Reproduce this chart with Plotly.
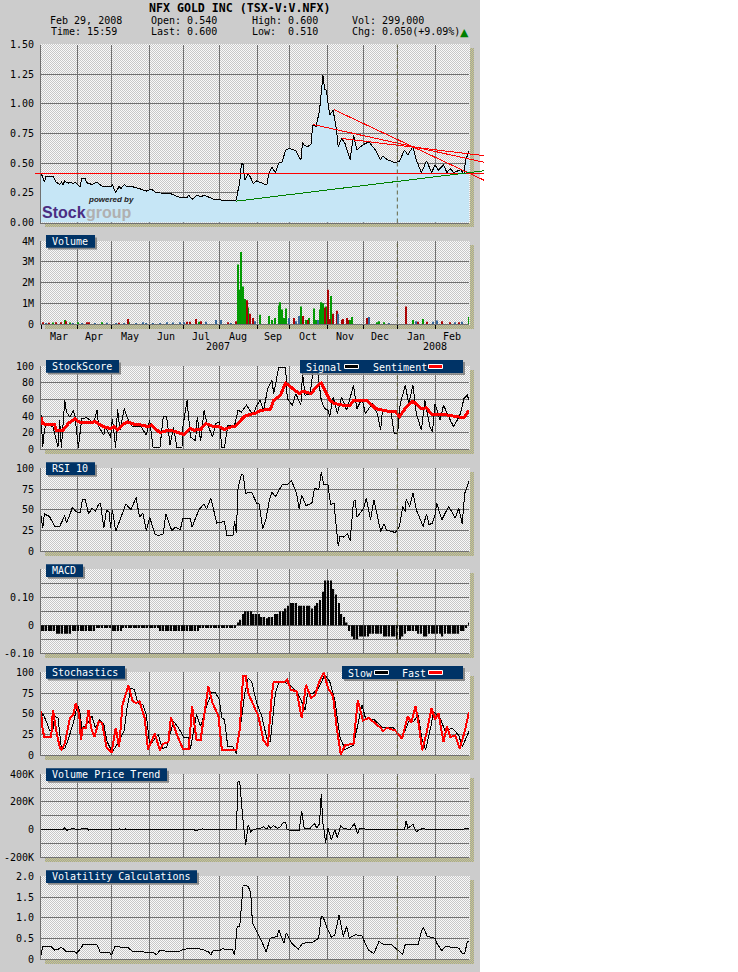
import base64, struct, zlib
import numpy as np
import plotly.graph_objects as go

TITLE = "NFX GOLD INC (TSX-V:V.NFX)"
MONTHS = ["Mar","Apr","May","Jun","Jul","Aug","Sep","Oct","Nov","Dec","Jan","Feb"]
MONTH_EDGES = [0,21.2,41.3,63.7,83.7,104.9,127.3,146.2,168.6,189.8,209.8,232.2,252]
YEAR_BREAK = 209.8

PRICE_S = [0,1,2,3,7,9,11,12,13,14,16,17,19,20,23,24,26,27,30,33,36,41,42,44,46,47,49,51,53,56,58,62,65,68,72,76,82,86,87,89,92,94,96,99,102,105,107,114,115,116,117,118,119,120,122,123,125,127,130,133,134,136,138,140,142,144,146,150,153,154,155,157,159,160,162,164,166,167,168,170,172,174,175,177,179,182,184,186,189,193,197,200,201,204,208,211,214,216,219,221,224,227,230,232,234,237,239,241,243,247,249,250,252]
PRICE_V = [.41,.385,.34,.39,.39,.34,.32,.34,.32,.35,.33,.34,.33,.34,.30,.37,.37,.335,.32,.34,.305,.30,.32,.25,.305,.285,.32,.30,.305,.295,.285,.265,.28,.25,.245,.245,.21,.21,.23,.195,.23,.215,.23,.215,.195,.195,.185,.185,.19,.27,.34,.50,.49,.355,.41,.39,.33,.35,.335,.315,.41,.465,.42,.50,.51,.61,.625,.605,.525,.68,.65,.64,.66,.82,.81,.945,1.24,1.12,1.115,.905,.945,.78,.64,.71,.665,.53,.735,.61,.65,.68,.61,.525,.56,.53,.505,.515,.61,.57,.64,.525,.42,.52,.42,.485,.44,.485,.42,.455,.42,.445,.41,.525,.60]

RESIST_S = [[172.6,261],[160.4,261],[177,261],[-3.5,261]]
RESIST_V = [[.95,.355],[.825,.507],[.708,.563],[.412,.412]]
SUPPORT_S = [115,261]
SUPPORT_V = [.18,.436]

VOL_UP_S = [7,14,17,22,36,52,93,116,118,117,119,120,122,129,134,136,138,140,141,142,143,144,153,156,158,161,162,164,165,166,168,171,182,183,198,199,202,219,225,252]
VOL_UP_V = [.08,.2,.08,.1,.1,.1,.12,2.85,3.45,1.65,1.8,1.2,.8,.45,.4,.2,.3,.9,1.05,.7,.3,.75,.85,.2,.3,.75,.2,.7,1.05,1.0,.85,1.35,.2,.35,.1,.15,.1,.2,.25,.35]
VOL_DN_S = [1,5,9,12,15,27,28,46,51,86,88,91,94,110,115,121,123,125,149,154,157,167,169,170,172,174,177,178,180,181,192,215,222,227,236,241,246]
VOL_DN_V = [.1,.07,.1,.1,.15,.1,.1,.07,.25,.12,.12,.25,.15,.1,.15,1.15,.5,.3,.3,.4,.2,.8,1.65,.25,.5,.65,.2,.25,.3,.2,.3,.85,.12,.12,.15,.1,.1]
VOL_FL_S = [3,19,24,32,39,44,49,56,60,62,66,70,74,78,82,84,97,103,106,112,126,146,150,152,163,175,193,205,221,231,233,244,248]
VOL_FL_V = [.05,.05,.05,.05,.07,.05,.06,.05,.1,.05,.05,.05,.1,.08,.1,.1,.12,.2,.2,.05,.15,.3,.15,.4,.2,.5,.35,.05,.15,.12,.18,.1,.12]

SIGNAL_S = [0,0.5,1,2,3,7,9,10,11,12,14,15,17,19,20,21,22,24,27,31,33,34,37,38,41,42,44,45,46.5,49,51,54,59,62,64,66,70,72,74,76,78,80,83,83.5,86,88,91,92,94,96,97.5,101,103,105,106.5,108,110,114,116,118,121,125,127,129,131,133.5,136,137,140,142,144,145,148,150,153,154,155.5,158.5,160,163,165,167,169,170,172,174.5,177,180,184,186,189,191,195,198,200,201,206,208,210,211.5,214.5,216.5,219,221,224,226,229,230.5,232,235,237,241,243,247,249,251,252]
SIGNAL_V = [42,23,3,23,31,27,13,3,35,2,59,45,39,47,40,23,2,37,38,32,47,27,17,27,14,37,2,49,23,49,37,27,27,17,35,2,2,39,39,5,27,2,2,27,59,15,10,39,10,47,33,15,31,33,2,2,29,29,47,45,53,41,53,59,47,73,83,67,99,99,99,61,53,67,53,92,65,67,92,92,59,49,47,39,63,43,63,47,77,49,61,43,55,43,23,47,45,19,19,55,77,55,77,43,23,59,27,21,55,35,53,35,27,43,61,65,59]
SENT_S = [0,1,3,8,9,13,16,20,23,32,37,41,43,45,49,51,55,60,63,65,70,75,78,84,88,90,94,97,102,105,108,112,114,120,125,127,129,135,137,141,144,147,152,154,159,162,165,170,173,178,182,184,192,197,204,209,211,215,219,224,227,230,237,246,249,252]
SENT_V = [39,31,30,30,23,23,31,37,32,33,27,25,27,23,31,33,30,29,27,29,20,23,22,18,25,23,24,31,27,27,24,27,27,40,43,44,47,48,59,65,80,75,67,70,67,75,80,59,55,53,53,59,59,49,46,45,39,51,58,49,50,42,42,39,38,47]

RSI_S = [0,1,2,5,8,11,14,15,17,18.5,20.5,23,24.5,26,28,30,32,34,35,37,38.5,40,41,42,44,46,48.5,50,53,56,58,60,62,64,67,69,72,73.5,77,79,82,83.5,88,89,91,93,96,97.5,100,103.5,108,109.5,113,114,115,116,118,119,120.5,124,127,128.5,130.5,132.5,134.5,136,138,140.5,142,145,147.5,150.5,152,153.5,156,159.5,161,163.5,165,166.5,169,170.5,172.5,175,176,178,180.5,182,184,185,186,190,191.5,194,196,200,202,203.5,207,208.5,211,213,214.5,215,217,219,221,225,227,228.5,230.5,232,233,236,240,244,246,248,249.5,252]
RSI_V = [42,28,45,42,30,30,43,34,44,53,48,46,63,63,45,52,48,57,58,28,49,48,28,50,24,35,48,57,50,65,41,46,25,41,21,19,21,45,25,29,26,39,39,29,40,50,57,51,64,34,36,19,19,36,22,76,93,92,70,71,58,57,27,39,62,71,66,75,80,80,85,70,51,68,55,58,76,74,95,80,80,56,58,6,18,17,21,13,60,62,41,52,64,38,62,24,33,25,24,22,30,54,48,63,54,70,50,30,45,32,34,44,58,38,54,40,52,33,70,84]

MACD_V = ([-.02]*6+[-.03]*6+[-.02]*9+[-.01]*6+[-.02]*4+[-.01]*14+[-.02]*15+[-.01]*14
          +[.01,.02,.04]+[.05]*3+[.04]*3+[.03]*2+[.025]+[.03]*2+[.04]*2+[.05]*2+[.06,.07]+[.08]*3+[.07]*5
          +[.06,.07,.08,.09,.12]+[.16]*3+[.13,.11,.08,.04,.03,.01,-.02,-.04]+[-.05]*2+[-.04]*4+[-.03]*5
          +[-.04]*5+[-.05]*2+[-.04,-.03]+[-.02]*4+[-.03]*2+[-.04]*2+[-.03]*5+[-.04]+[-.03]*6+[-.02]*2+[-.01,.01])

FAST_S = [0,1,2,6,7,9,11,12,14,17,19,20.5,22.5,23.5,24.5,26.5,28,29.5,31.5,34,36,38.5,41.5,44,46,48,51.5,54,56,58,61,63,67,70,72,75,76.5,80,83.5,87,89,91.5,94,98.5,101,104.5,106.5,115,117,119,120.5,122,128,131,133.5,136,137,143,145,147,150.5,153.5,156,159,161.5,163.5,166.5,169,172,174,176.5,179,184,186.5,189.5,193,200,201.5,203.5,208.5,212.5,216,218,220.5,222,224.5,227,230,232,234,237,239,241,244,246.5,249.5,252]
FAST_V = [53,30,22,22,55,29,10,7,14,45,49,63,49,18,33,33,55,33,22,41,39,10,3,33,10,61,84,65,63,65,45,7,26,6,14,16,46,25,8,8,59,19,19,83,63,47,6,6,31,95,95,75,47,18,11,75,88,88,91,79,77,45,85,69,73,87,100,81,71,35,1,12,14,66,42,45,33,29,33,30,20,47,39,59,43,6,27,57,43,51,16,35,22,24,8,29,52]
SLOW_S = [0,1,3.5,5,7,8,10,12,14,16,19,21.5,23,24,27,30,32,34.5,37,39,42,44.5,47,49,50.5,53,55,57,60,62,64,67,69,71.5,74,78,81,84,86.5,88,91.5,94,97.5,100.5,102.5,105,106.5,108,110,113,115,118,120,122,124,127,130,133,135,138,140,145,150,153,155.5,157,160.5,163.5,167,170,173,176,179,184,187,189,191,196,201.5,207.5,212.5,216.5,219.5,222,224.5,226.5,230,231,235,238,242,246,248,252]
SLOW_V = [43,51,39,30,30,47,45,8,8,19,39,61,51,33,37,47,33,43,37,16,4,12,22,30,55,81,79,63,61,49,12,20,25,8,10,41,33,22,22,8,49,35,59,76,76,67,45,43,10,10,2,43,75,93,89,63,47,20,16,75,88,87,78,67,55,75,75,81,97,89,67,22,7,12,39,61,45,43,33,33,20,41,41,49,18,7,39,53,45,29,33,24,10,29]

VPT_S = [0,13,14,15,17,19,21,25,27,28,30,45,46,49,50,51,87,88,90,91,93,95,97,115,115.5,116,117,118,119,120.5,122,123.5,125,129,131,133,134,135,137,139,141,142,144,145,152,153.5,155,158.5,161,162.5,164,165,166,167,167.5,169,171,173,174.5,176.5,178,182,184.5,186.5,187.5,190,194,198,214,215,216,219,221,222,225,227,251,252]
VPT_V = [0,0,14,-5,3,8,2,6,8,-3,0,0,6,0,6,0,0,3,0,-6,-2,5,0,0,165,347,347,178,60,-110,33,-15,0,10,20,5,29,10,29,10,20,45,53,-2,-7,135,10,10,45,10,45,255,45,-26,-99,10,-75,-2,-58,29,10,0,45,-31,10,5,2,0,0,65,10,38,-15,-7,10,0,5,10]

VOLAT_S = [0,1,6,8,10,12,14,15,20,21,24,24.5,33,35,40.5,41.5,43.5,51,53.5,57,66,68,70,76,82,84,90,95,98.5,100,101.5,105.5,106.5,112.5,114,115.5,117,119,122,123.5,124.5,127,130,132.5,135,139,140,143,144.5,147.5,151.5,154,159.5,163.5,165,166,168.5,171,173,175.5,178,180,181.5,185,189,191,193,196,199,202,206.5,209.5,213,214.5,222,224,225,227.5,232,233,236,238,246,248,249.5,251,252]
VOLAT_V = [.1,.3,.3,.22,.24,.29,.22,.18,.18,.15,.29,.35,.35,.16,.16,.1,.3,.29,.2,.18,.17,.11,.21,.19,.2,.24,.27,.24,.18,.11,.22,.22,.25,.24,.11,.79,.79,1.78,1.76,1.59,.87,.67,.43,.18,.51,.55,.71,.39,.64,.39,.24,.39,.4,.51,1.03,1.03,.75,.53,.59,1.07,.55,.79,.51,.59,.57,.37,.22,.14,.43,.35,.35,.24,.12,.36,.35,.67,.77,.55,.51,.39,.21,.31,.27,.14,.14,.43,.43]

W, H = 738, 972
X0, X1 = 41, 469
OVER0, OVER1 = 35, 485   # the trend lines run past the plot area to these pixels
FONT = "DejaVu Sans Mono"
GRID = "#707070"
NAVY = "#003366"
PANELS = {  # name: (top px, bottom px, range, tick values, tick labels, label, label right edge, label top)
    "": (44.5, 222.5, [0, 1.5], [0,.25,.5,.75,1,1.25,1.5], ["0.00","0.25","0.50","0.75","1.00","1.25","1.50"], None, 0, 0),
    "2": (241, 324.3, [0, 3.97], [0,1,2,3,3.97], ["0","1M","2M","3M","4M"], "Volume", 95, 235),
    "3": (366.3, 449.3, [0, 100], [0,20,40,60,80,100], ["0","20","40","60","80","100"], "StockScore", 119, 360),
    "4": (468.3, 551.3, [0, 100], [0,25,50,75,100], ["0","25","50","75","100"], "RSI 10", 95, 462.3),
    "5": (569.3, 653.3, [-.1, .2], [-.1,-.05,0,.05,.1,.15,.2], ["-0.10","","0","","0.10","",""], "MACD", 83, 564.3),
    "6": (672.3, 755.3, [0, 100], [0,25,50,75,100], ["0","25","50","75","100"], "Stochastics", 125, 666),
    "7": (774.3, 857.3, [-200, 400], [-200,-100,0,100,200,300,400], ["-200K","","0","","200K","","400K"], "Volume Price Trend", 167, 768.3),
    "8": (876.3, 959.3, [0, 2], [0,.5,1,1.5,2], ["0","0.5","1.0","1.5","2.0"], "Volatility Calculations", 197, 870.3),
}

def fx(px): return px / W
def fy(py): return 1 - py / H

def png_uri(rgb):
    h, w, _ = rgb.shape
    raw = b"".join(b"\x00" + rgb[r].tobytes() for r in range(h))
    def chunk(t, d):
        return struct.pack(">I", len(d)) + t + d + struct.pack(">I", zlib.crc32(t + d) & 0xffffffff)
    data = (b"\x89PNG\r\n\x1a\n" + chunk(b"IHDR", struct.pack(">IIBBBBB", w, h, 8, 2, 0, 0, 0))
            + chunk(b"IDAT", zlib.compress(raw)) + chunk(b"IEND", b""))
    return "data:image/png;base64," + base64.b64encode(data).decode()

def background():
    img = np.full((H, W, 3), 255, dtype=np.uint8)
    img[:, :480] = (204, 204, 204)
    yy, xx = np.mgrid[0:H, 0:W]
    chk = (xx + yy) % 2 == 0
    for p in PANELS.values():
        t, b = int(p[0]), int(p[1])
        mask = np.zeros((H, W), bool)
        mask[t + 4:b + 5, X0 + 4:X1 + 5] = True
        img[mask & chk] = (204, 204, 136)
        img[mask & ~chk] = (160, 160, 160)
        mask[:] = False
        mask[t:b + 1, X0:X1 + 1] = True
        img[mask & chk] = (200, 200, 200)
        img[mask & ~chk] = (250, 250, 250)
    return png_uri(img)

fig = go.Figure()
shapes, annos = [], []

def text(px, py, s, size=10, color="black", anchor="left", bold=False, family=FONT, italic=False):
    annos.append(dict(xref="paper", yref="paper", x=fx(px), y=fy(py), text=("<b>%s</b>" % s) if bold else s,
                      showarrow=False, xanchor=anchor, yanchor="middle", xshift=0, yshift=0,
                      font=dict(family=family, size=size, color=color, style="italic" if italic else "normal"),
                      borderpad=0))

def rect(x0, y0, x1, y1, fill, line=None, lw=0):
    shapes.append(dict(type="rect", xref="paper", yref="paper", x0=fx(x0), x1=fx(x1), y0=fy(y0), y1=fy(y1),
                       fillcolor=fill, line=dict(color=line or fill, width=lw), layer="above"))

def line(sfx, x, y, color="black", width=1):
    fig.add_trace(go.Scatter(x=x, y=y, mode="lines", line=dict(color=color, width=width), xaxis="x" + sfx, yaxis="y" + sfx,
                             showlegend=False, hoverinfo="skip"))

def bars(sfx, x, y, color, width, opacity=1):
    fig.add_trace(go.Bar(x=x, y=y, width=width, marker=dict(color=color, opacity=opacity, line=dict(width=0)), xaxis="x" + sfx, yaxis="y" + sfx,
                         showlegend=False, hoverinfo="skip"))

fig.add_trace(go.Scatter(x=PRICE_S, y=PRICE_V, mode="lines", fill="tozeroy", fillcolor="#c6e6f6", line=dict(color="black", width=1),
                         showlegend=False, hoverinfo="skip", xaxis="x", yaxis="y"))
for s, v in zip(RESIST_S, RESIST_V):
    line("9", s, v, "#ff0000", 1)
line("9", SUPPORT_S, SUPPORT_V, "#008000", 1)
bars("2", VOL_UP_S, VOL_UP_V, "#009900", .6, .99)
bars("2", VOL_DN_S, VOL_DN_V, "#aa0000", .6, .99)
bars("2", VOL_FL_S, VOL_FL_V, "#336699", .6, .99)
line("3", SIGNAL_S, SIGNAL_V, "black", 1)
line("3", SENT_S, SENT_V, "#ff0000", 3)
line("4", RSI_S, RSI_V, "black", 1)
macd_s = [i * 252 / (len(MACD_V) - 1) for i in range(len(MACD_V))]
bars("5", macd_s, MACD_V, "black", .85, .99)
line("6", SLOW_S, SLOW_V, "black", 1)
line("6", FAST_S, FAST_V, "#ff0000", 2)
line("7", VPT_S, VPT_V, "black", 1)
line("8", VOLAT_S, VOLAT_V, "black", 1)

layout = dict(width=W, height=H, margin=dict(l=0, r=0, t=0, b=0, pad=0, autoexpand=False), autosize=False, paper_bgcolor="white",
              plot_bgcolor="rgba(0,0,0,0)", barmode="overlay", showlegend=False, hovermode=False, template="none",
              font=dict(family=FONT, size=10, color="black"))
per_px = 252 / (X1 - X0)
layout["xaxis9"] = dict(domain=[fx(OVER0), fx(OVER1)], range=[(OVER0 - X0) * per_px, (OVER1 - X0) * per_px], anchor="y9",
                        visible=False, automargin=False, showgrid=False)
layout["yaxis9"] = dict(domain=[fy(PANELS[""][1]), fy(PANELS[""][0])], range=PANELS[""][2], anchor="x9",
                        visible=False, automargin=False, showgrid=False)
for sfx, (t, b, rng, tv, tt, label, rx, ly) in PANELS.items():
    is_vol = sfx == "2"
    layout["xaxis" + sfx] = dict(domain=[fx(X0), fx(X1)], range=[0, 252], anchor="y" + sfx, tickmode="array", automargin=False,
                                 tickvals=MONTH_EDGES[:-1], showticklabels=False, showgrid=True, gridcolor=GRID, gridwidth=1,
                                 zeroline=False, showline=True, linecolor=GRID, linewidth=1,
                                 ticks="outside" if is_vol else "", ticklen=4, tickcolor="black", tickwidth=1)
    layout["yaxis" + sfx] = dict(domain=[fy(b), fy(t)], range=rng, anchor="x" + sfx, tickmode="array", tickvals=tv, ticktext=tt,
                                 showgrid=True, gridcolor=GRID, gridwidth=1, zeroline=False, showline=True, linecolor=GRID,
                                 linewidth=1, ticks="outside", ticklen=4, tickcolor="rgba(0,0,0,0)", automargin=False,
                                 tickfont=dict(family=FONT, size=10, color="black"))
    shapes.append(dict(type="line", xref="x" + sfx, yref="y%s domain" % sfx, x0=YEAR_BREAK, x1=YEAR_BREAK, y0=0, y1=1,
                       line=dict(color="#666644", width=1, dash="4px,3px"), layer="above"))
    if label:
        rect(48, ly + 2.5, rx + 2, ly + 14.5, "#888888")
        rect(46, ly, rx, ly + 12.7, NAVY)
        text(51, ly + 6.5, label, color="white")

for i, m in enumerate(MONTHS):
    annos.append(dict(xref="x2", yref="paper", x=(MONTH_EDGES[i] + MONTH_EDGES[i + 1]) / 2, y=fy(336), text=m, showarrow=False,
                      xanchor="center", yanchor="middle", font=dict(family=FONT, size=10, color="black")))
text(218, 347, "2007", anchor="center")
text(435.3, 347, "2008", anchor="center")

rect(300, 360, 463, 373.3, NAVY)
rect(463, 362, 465, 375, "#888888")
rect(302, 373.3, 465, 375, "#888888")
text(305, 367, "Signal", color="white")
rect(344.5, 364.5, 358.5, 368.5, "black", "white", 1)
text(371.5, 367, "Sentiment", color="white")
rect(428.5, 364.5, 442.5, 368.5, "#ff0000", "white", 1)
rect(342, 666, 463, 679, NAVY)
rect(463, 668, 465, 681, "#888888")
rect(344, 679, 465, 681, "#888888")
text(347, 673, "Slow", color="white")
rect(374.5, 670.5, 388.5, 674.5, "black", "white", 1)
text(401, 673, "Fast", color="white")
rect(428.5, 670.5, 442.5, 674.5, "#ff0000", "white", 1)

text(239, 8, TITLE, size=11.6, anchor="center", bold=True)
for px, py, s in [(49, 21, "Feb 29, 2008"), (50, 32, "Time: 15:59"), (149.5, 21, "Open: 0.540"), (149.5, 32, "Last: 0.600"),
                  (250.5, 21, "High: 0.600"), (250.5, 32, "Low:  0.510"), (350.5, 21, "Vol: 299,000"), (350.5, 32, "Chg: 0.050(+9.09%)")]:
    text(px, py, s)
text(464.5, 32.5, "\u25b2", size=11, color="#008000", anchor="center", family="DejaVu Sans")

text(41, 212.5, "Stock", size=16, color="#4b2e83", bold=True, family="Liberation Sans")
text(85, 212.5, "group", size=16, color="#b0b0b0", bold=True, family="Liberation Sans")
text(87, 200, "powered by", size=8, color="#222222", bold=True, italic=True, family="Liberation Sans")

layout["shapes"] = shapes
layout["annotations"] = annos
layout["images"] = [dict(source=background(), xref="paper", yref="paper", x=0, y=1, sizex=1, sizey=1, sizing="stretch",
                         xanchor="left", yanchor="top", layer="below")]
fig.update_layout(**layout)
reset = ("document.documentElement.style.margin='0';document.body.style.margin='0';document.body.style.padding='0';"
         "document.documentElement.style.overflow='hidden';"
         "document.querySelectorAll('.js-line').forEach(function(p){p.style.shapeRendering='crispEdges';});")
fig.write_html("out.html", config=dict(displayModeBar=False), post_script=reset)
